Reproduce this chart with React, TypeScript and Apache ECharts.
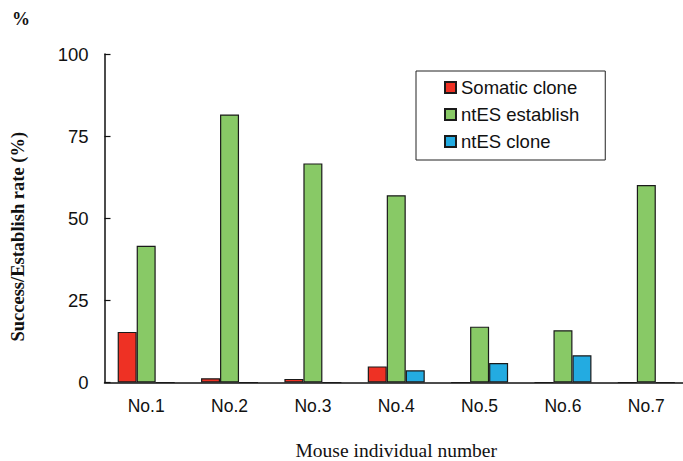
import React, { useEffect, useRef } from "react";
import * as echarts from "echarts";

const categories = ["No.1", "No.2", "No.3", "No.4", "No.5", "No.6", "No.7"];
const somaticClone = [15.4, 1.3, 1.1, 4.9, 0, 0, 0];
const ntESEstablish = [41.6, 81.6, 66.7, 57.0, 17.0, 15.9, 60.1];
const ntESClone = [0, 0, 0, 3.7, 5.9, 8.3, 0];
const yTicks = { min: 0, max: 100, interval: 25 };

const SANS = "'Liberation Sans', Arial, Helvetica, sans-serif";
const SERIF = "'Liberation Serif', 'Times New Roman', serif";

export default function App() {
  const ref = useRef<HTMLDivElement>(null);
  useEffect(() => {
    if (!ref.current) return;
    const chart = echarts.init(ref.current, null, { renderer: "svg" });
    const barStyle = (color: string) => ({
      color,
      borderColor: "#1a1a1a",
      borderWidth: 1.2,
    });
    chart.setOption({
      animation: false,
      backgroundColor: "#ffffff",
      title: {
        text: "%",
        left: 12,
        top: 10,
        padding: 0,
        textStyle: { fontFamily: SERIF, fontWeight: "bold", fontSize: 18, color: "#111" },
      },
      legend: {
        orient: "vertical",
        left: 416,
        top: 71,
        padding: [7, 26, 9, 28],
        borderColor: "#222",
        borderWidth: 1,
        itemWidth: 11,
        itemHeight: 11,
        itemGap: 8,
        icon: "rect",
        textStyle: { fontFamily: SANS, fontSize: 18.5, color: "#111" },
        data: ["Somatic clone", "ntES establish", "ntES clone"],
      },
      grid: {
        left: 104.5,
        right: -5,
        top: 54,
        bottom: 78.5,
        containLabel: false,
        outerBoundsMode: "none",
      },
      xAxis: {
        type: "category",
        data: categories,
        name: "Mouse individual number",
        nameLocation: "middle",
        nameGap: 58,
        nameTextStyle: { fontFamily: SERIF, fontSize: 19.5, color: "#111" },
        axisLine: { lineStyle: { color: "#111", width: 1.5 } },
        axisTick: { inside: true, length: 5, interval: 0, lineStyle: { color: "#111", width: 1.2 } },
        axisLabel: { fontFamily: SANS, fontSize: 17.5, color: "#111", margin: 14, interval: 0 },
      },
      yAxis: {
        type: "value",
        min: yTicks.min,
        max: yTicks.max,
        interval: yTicks.interval,
        name: "Success/Establish rate (%)",
        nameLocation: "middle",
        nameGap: 77,
        nameTextStyle: {
          fontFamily: SERIF,
          fontWeight: "bold",
          fontSize: 18.5,
          color: "#111",
          padding: [0, 37, 0, 0],
        },
        axisLine: { show: true, lineStyle: { color: "#111", width: 1.5 } },
        axisTick: { show: true, inside: true, length: 6, lineStyle: { color: "#111", width: 1.2 } },
        axisLabel: { fontFamily: SANS, fontSize: 18.5, color: "#111", margin: 16 },
        splitLine: { show: false },
      },
      series: [
        { name: "Somatic clone", type: "bar", data: somaticClone, barWidth: 19, barGap: "0%", itemStyle: barStyle("#EE3124") },
        { name: "ntES establish", type: "bar", data: ntESEstablish, barWidth: 19, barGap: "0%", itemStyle: barStyle("#88C966") },
        { name: "ntES clone", type: "bar", data: ntESClone, barWidth: 19, barGap: "0%", itemStyle: barStyle("#23ABE1") },
      ],
    });
    return () => chart.dispose();
  }, []);
  return (
    <div
      ref={ref}
      style={{ position: "absolute", left: 0, top: 0, width: 683, height: 461 }}
    />
  );
}
